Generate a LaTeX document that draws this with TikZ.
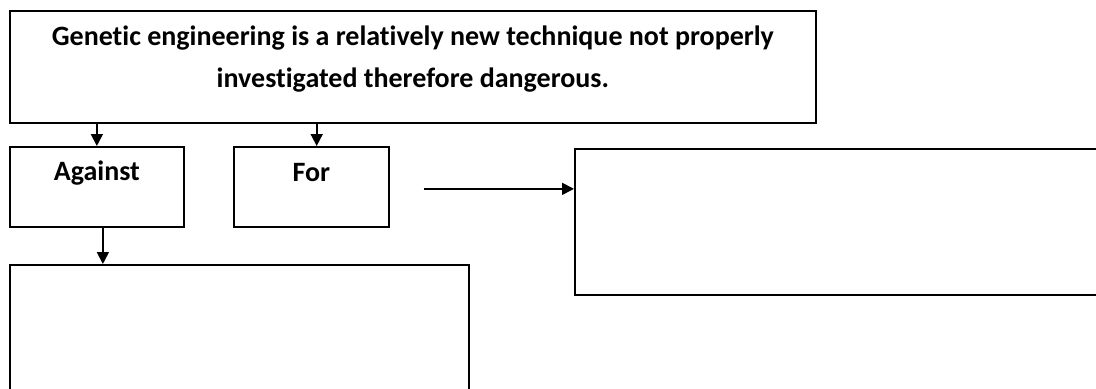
\documentclass[tikz,border=0pt]{standalone}
\usepackage{fontspec}
\setmainfont[Ligatures=NoCommon]{Carlito}
\usetikzlibrary{positioning,arrows.meta}

\begin{document}
\begin{tikzpicture}[x=0.75pt,y=-0.75pt]
\tikzstyle{every node}=[font=\bfseries\fontsize{21}{31.5}\selectfont]
\tikzstyle{box}=[draw, line width=1.3pt, rectangle, inner sep=0pt, anchor=north west]
\tikzstyle{link}=[line width=1.3pt, -{Triangle[length=9pt,width=9pt]}]

% page frame, white background
\useasboundingbox [fill=white] (0,0) rectangle (1096,389);
\clip (0,0) rectangle (1096,389);

% the claim on top
\node[box, minimum width=604.5pt, minimum height=84pt] (claim) at (9,10) {};
\node[align=center] (claimtxt) at ([yshift=-36.75pt]claim.north)
	{Genetic engineering is a relatively new technique not properly\\ investigated therefore dangerous.};

% against / for
\node[box, minimum width=130.5pt, minimum height=60pt] (against) at (9,146) {};
\node[box, minimum width=116.25pt, minimum height=60pt] (for) at (233,146) {};
\node (againsttxt) at ([yshift=-20.25pt]against.north) {Against};
\node (fortxt) at ([yshift=-20.25pt]for.north) {For};

% empty answer boxes (cut off by the page)
\node[box, minimum width=420pt, minimum height=109.5pt] (forbox) at (574,148) {};
\node[box, minimum width=344.25pt, minimum height=105pt] (againstbox) at (9,264) {};

% connectors
\draw[link] (claim.south -| against.north) -- (against.north);
\draw[link] ([xshift=4pt]claim.south -| for.north) -- ([xshift=4pt]for.north);
\coordinate (fortail) at ([xshift=25.5pt,yshift=-1.5pt]for.east);
\draw[link] (fortail) -- (fortail -| forbox.west);
\draw[link] ([xshift=4.5pt]against.south) -- ([xshift=4.5pt]against.south |- againstbox.north);

\end{tikzpicture}
\end{document}
